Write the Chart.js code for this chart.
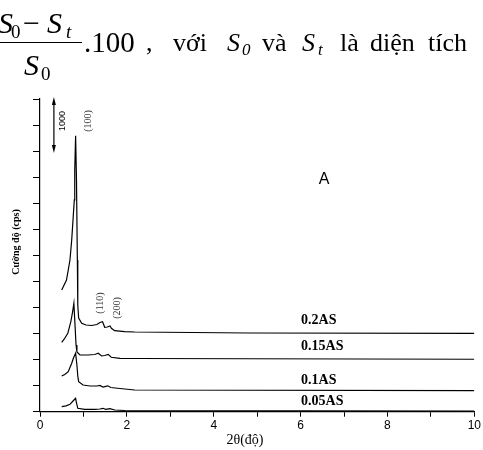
<!DOCTYPE html>
<html>
<head>
<meta charset="utf-8">
<script src="https://cdn.jsdelivr.net/npm/chart.js@4.4.1/dist/chart.umd.min.js"></script>
<style>
  html, body { margin: 0; padding: 0; background: #fff; }
  body { width: 483px; height: 450px; position: relative; overflow: hidden; }
  #xrd { position: absolute; left: 0; top: 0; }
  #hdr { position: absolute; left: 0; top: 0; width: 483px; height: 90px; font-family: "Liberation Serif", "Times New Roman", serif; color: #000; z-index: 2; }
  #hdr span { position: absolute; line-height: 1; white-space: nowrap; }
  #hdr i { font-style: italic; }
  #hdr .bar { position: absolute; left: 0; top: 42px; width: 82px; height: 1.3px; background: #000; }
</style>
</head>
<body>
<div id="hdr">
  <span style="font-size:30px; left:-2px; top:8px;"><i>S</i></span>
  <span style="font-size:19px; left:11px; top:22px;">0</span>
  <span style="font-size:30px; left:23px; top:8px;">−</span>
  <span style="font-size:30px; left:47px; top:8px;"><i>S</i></span>
  <span style="font-size:19px; left:66px; top:22px;"><i>t</i></span>
  <div class="bar"></div>
  <span style="font-size:30px; left:24px; top:50px;"><i>S</i></span>
  <span style="font-size:19px; left:41px; top:64px;">0</span>
  <span style="font-size:29px; left:84px; top:28px;">.100</span>
  <span style="font-size:26px; left:146px; top:30px;">,</span>
  <span style="font-size:26px; left:173px; top:30px;">với</span>
  <span style="font-size:26px; left:227px; top:30px;"><i>S</i></span>
  <span style="font-size:17px; left:242px; top:41px;"><i>0</i></span>
  <span style="font-size:26px; left:262px; top:30px;">và</span>
  <span style="font-size:26px; left:302px; top:30px;"><i>S</i></span>
  <span style="font-size:17px; left:318px; top:41px;"><i>t</i></span>
  <span style="font-size:26px; left:340px; top:30px;">là</span>
  <span style="font-size:26px; left:370px; top:30px;">diện</span>
  <span style="font-size:26px; left:428px; top:30px;">tích</span>
</div>
<canvas id="xrd" width="483" height="450"></canvas>
<script>
// 2θ (độ) và cường độ (cps) cho từng mẫu
const theta02 = [0.50, 0.61, 0.69, 0.73, 0.76, 0.79, 0.80, 0.82, 0.84, 0.86, 0.87, 0.89, 0.96, 1.06, 1.19, 1.31, 1.38, 1.44, 1.49, 1.55, 1.61, 1.65, 1.72, 1.95, 2.18, 4.82, 10.0];
const cps02   = [2335, 2527, 2911, 3295, 3679, 4063, 4638, 5296, 4446, 2911, 2048, 1798, 1696, 1664, 1654, 1673, 1712, 1727, 1620, 1625, 1645, 1597, 1554, 1535, 1529, 1510, 1501];

const theta015 = [0.50, 0.56, 0.64, 0.71, 0.75, 0.78, 0.80, 0.83, 0.85, 0.92, 1.10, 1.26, 1.34, 1.42, 1.49, 1.57, 1.64, 1.84, 2.18, 10.0];
const cps015   = [1332, 1395, 1504, 1727, 1913, 2080, 1760, 1280, 1146, 1088, 1088, 1098, 1121, 1069, 1078, 1101, 1044, 1025, 1021, 1006];

const theta01 = [0.50, 0.57, 0.65, 0.73, 0.77, 0.82, 0.85, 0.87, 0.89, 0.99, 1.15, 1.31, 1.38, 1.45, 1.56, 1.63, 1.84, 2.18, 10.0];
const cps01   = [685, 714, 768, 929, 1031, 1121, 896, 685, 576, 512, 493, 493, 503, 474, 497, 464, 445, 416, 403];

const theta005 = [0.50, 0.60, 0.69, 0.76, 0.82, 0.84, 0.87, 1.03, 1.26, 1.38, 1.45, 1.51, 1.61, 1.72, 1.95, 10.0];
const cps005   = [96, 113, 142, 205, 257, 167, 65, 46, 46, 52, 65, 46, 58, 33, 23, 13];

// nhãn mẫu: [tên, 2θ, cps]
const sampleLabels = [
  ['0.2AS', 6.01, 1760],
  ['0.15AS', 6.01, 1261],
  ['0.1AS', 6.01, 608],
  ['0.05AS', 6.01, 192]
];
// nhãn mặt phản xạ (xoay dọc): [chữ, 2θ, cps]
const peakLabels = [
  ['(100)', 1.12, 5580],
  ['(110)', 1.38, 2086],
  ['(200)', 1.77, 1990]
];
// thang 1000 cps
const scaleBar = { x: 0.32, from: 6000, to: 5000, text: '1000', textX: 0.51 };
const panelMark = ['A', 6.54, 4446];

const xTicks = [0, 2, 4, 6, 8, 10];

function toPoints(xs, ys) {
  return xs.map((x, i) => ({ x: x, y: ys[i] }));
}

const annotate = {
  id: 'annotate',
  afterDatasetsDraw(chart) {
    const ctx = chart.ctx;
    const xs = chart.scales.x, ys = chart.scales.y;
    ctx.save();
    ctx.fillStyle = '#000';
    ctx.strokeStyle = '#000';

    // mũi tên thang đo
    const ax = xs.getPixelForValue(scaleBar.x);
    const a1 = ys.getPixelForValue(scaleBar.from);
    const a2 = ys.getPixelForValue(scaleBar.to);
    ctx.lineWidth = 1.2;
    ctx.beginPath();
    ctx.moveTo(ax, a1 + 4);
    ctx.lineTo(ax, a2 - 4);
    ctx.stroke();
    ctx.beginPath();
    ctx.moveTo(ax, a1 - 2); ctx.lineTo(ax - 2, a1 + 6); ctx.lineTo(ax + 2, a1 + 6); ctx.closePath();
    ctx.fill();
    ctx.beginPath();
    ctx.moveTo(ax, a2 + 2); ctx.lineTo(ax - 2, a2 - 6); ctx.lineTo(ax + 2, a2 - 6); ctx.closePath();
    ctx.fill();

    // chữ xoay dọc
    function vtext(t, px, py, font, color) {
      ctx.save();
      ctx.translate(px, py);
      ctx.rotate(-Math.PI / 2);
      ctx.font = font;
      ctx.fillStyle = color;
      ctx.textAlign = 'center';
      ctx.textBaseline = 'middle';
      ctx.fillText(t, 0, 0);
      ctx.restore();
    }
    vtext(scaleBar.text, xs.getPixelForValue(scaleBar.textX), ys.getPixelForValue(5580), '9px "Liberation Sans", Arial, sans-serif', '#000');
    peakLabels.forEach(p => {
      vtext(p[0], xs.getPixelForValue(p[1]), ys.getPixelForValue(p[2]), '10px "Liberation Serif", "Times New Roman", serif', '#333');
    });

    // nhãn mẫu
    ctx.font = 'bold 14px "Liberation Serif", "Times New Roman", serif';
    ctx.textAlign = 'left';
    ctx.textBaseline = 'middle';
    sampleLabels.forEach(s => {
      ctx.fillText(s[0], xs.getPixelForValue(s[1]), ys.getPixelForValue(s[2]));
    });

    ctx.font = '16px "Liberation Sans", Arial, sans-serif';
    ctx.textAlign = 'center';
    ctx.fillText(panelMark[0], xs.getPixelForValue(panelMark[1]), ys.getPixelForValue(panelMark[2]));

    // tiêu đề trục
    vtext('Cường độ (cps)', 16.5, chart.chartArea.top + 143, 'bold 10px "Liberation Serif", "Times New Roman", serif', '#000');
    ctx.font = '14px "Liberation Serif", "Times New Roman", serif';
    ctx.textAlign = 'center';
    ctx.fillText('2θ(độ)', 245, 440);
    ctx.restore();
  }
};

const lineStyle = { borderColor: '#000', borderWidth: 1.2, pointRadius: 0, tension: 0, fill: false };

new Chart(document.getElementById('xrd'), {
  type: 'line',
  data: {
    datasets: [
      Object.assign({ label: '0.2AS', data: toPoints(theta02, cps02) }, lineStyle),
      Object.assign({ label: '0.15AS', data: toPoints(theta015, cps015) }, lineStyle),
      Object.assign({ label: '0.1AS', data: toPoints(theta01, cps01) }, lineStyle),
      Object.assign({ label: '0.05AS', data: toPoints(theta005, cps005) }, lineStyle)
    ]
  },
  options: {
    responsive: false,
    animation: false,
    layout: { padding: { top: 99, right: 7, left: 0, bottom: 0 } },
    plugins: { legend: { display: false }, tooltip: { enabled: false } },
    scales: {
      x: {
        type: 'linear',
        min: 0,
        max: 10,
        ticks: {
          stepSize: 1,
          autoSkip: false,
          maxRotation: 0,
          padding: 2,
          color: '#000',
          font: { family: '"Liberation Sans", Arial, sans-serif', size: 12 },
          callback: v => (xTicks.includes(v) ? v : '')
        },
        grid: { drawOnChartArea: false, tickLength: 5, color: '#000', lineWidth: 1 },
        border: { color: '#000', width: 1.2 },
        afterFit: s => { s.height = 38.3; }
      },
      y: {
        min: 0,
        max: 6000,
        ticks: { stepSize: 500, callback: () => '', padding: 0 },
        grid: { drawOnChartArea: false, tickLength: 7, color: '#000', lineWidth: 1 },
        border: { color: '#000', width: 1.2 },
        afterFit: s => { s.width = 40; }
      }
    }
  },
  plugins: [annotate]
});
</script>
</body>
</html>
